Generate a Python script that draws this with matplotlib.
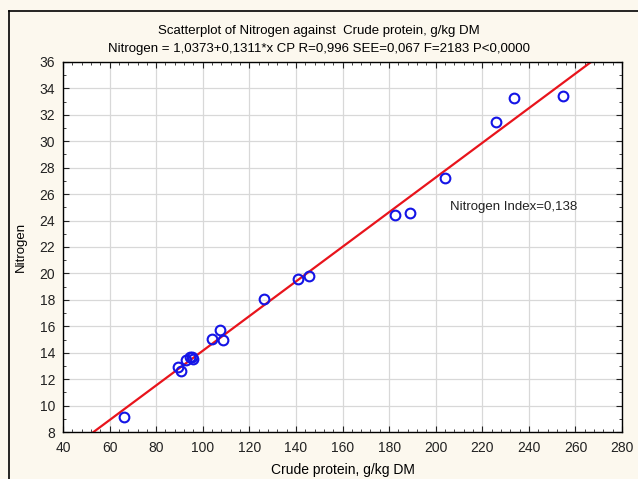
import matplotlib.pyplot as plt
from matplotlib.ticker import MultipleLocator

# crude protein (g/kg DM) vs nitrogen
crude_protein = [66, 89.5, 90.5, 93, 94.5, 95.5, 96, 104, 107.5, 108.5, 126.5,
                 141, 145.5, 182.5, 189, 204, 226, 233.5, 254.5]
nitrogen = [9.15, 12.95, 12.6, 13.45, 13.7, 13.65, 13.5, 15.05, 15.7, 14.95, 18.05,
            19.6, 19.8, 24.45, 24.55, 27.25, 31.45, 33.25, 33.45]

intercept = 1.0373
slope = 0.1311
x_fit = [40, 280]

plt.rcParams['font.family'] = ['Liberation Sans', 'DejaVu Sans']
bg = '#fcf8ee'

fig = plt.figure(figsize=(6.38, 4.79), dpi=100, facecolor=bg)
ax = fig.add_axes([0.0987, 0.0981, 0.8763, 0.7725])
ax.set_facecolor('white')

# frame round the whole chart (only left and top visible)
fig.add_artist(plt.Line2D([0.0145, 0.0145], [0, 0.977], color='black', lw=1.2,
                          transform=fig.transFigure))
fig.add_artist(plt.Line2D([0.0145, 1.0], [0.977, 0.977], color='black', lw=1.2,
                          transform=fig.transFigure))

ax.plot(x_fit, [intercept + slope * x for x in x_fit], color='#e8141c', lw=1.6, zorder=2)
ax.plot(crude_protein, nitrogen, 'o', mfc='none', mec='#1414e6', ms=7, mew=1.5, zorder=3)

ax.set_xlim(40, 280)
ax.set_ylim(8, 36)
ax.xaxis.set_major_locator(MultipleLocator(20))
ax.xaxis.set_minor_locator(MultipleLocator(4))
ax.yaxis.set_major_locator(MultipleLocator(2))
ax.yaxis.set_minor_locator(MultipleLocator(1))
ax.grid(True, which='major', color='#d8d8d8', lw=0.9)
ax.set_axisbelow(True)
ax.tick_params(which='both', direction='in', top=True, right=True, labelsize=10,
               colors='#222222')
ax.tick_params(which='major', length=4)
ax.tick_params(which='minor', length=2)
ax.tick_params(axis='x', which='major', pad=6.5)
ax.tick_params(axis='y', which='major', pad=5.5)
for s in ax.spines.values():
    s.set_color('black')
    s.set_linewidth(1.0)

ax.set_xlabel('Crude protein, g/kg DM', fontsize=10, labelpad=6)
ax.set_ylabel('Nitrogen', fontsize=9.5, labelpad=9)

fig.text(0.5, 0.936, 'Scatterplot of Nitrogen against  Crude protein, g/kg DM',
         ha='center', va='center', fontsize=9.5)
fig.text(0.5, 0.898, 'Nitrogen = 1,0373+0,1311*x CP R=0,996 SEE=0,067 F=2183 P<0,0000',
         ha='center', va='center', fontsize=9.5)

ax.text(206, 25.05, 'Nitrogen Index=0,138', ha='left', va='center', fontsize=9.5,
        color='#222222')

fig.savefig('out.png', dpi=100, facecolor=bg)
